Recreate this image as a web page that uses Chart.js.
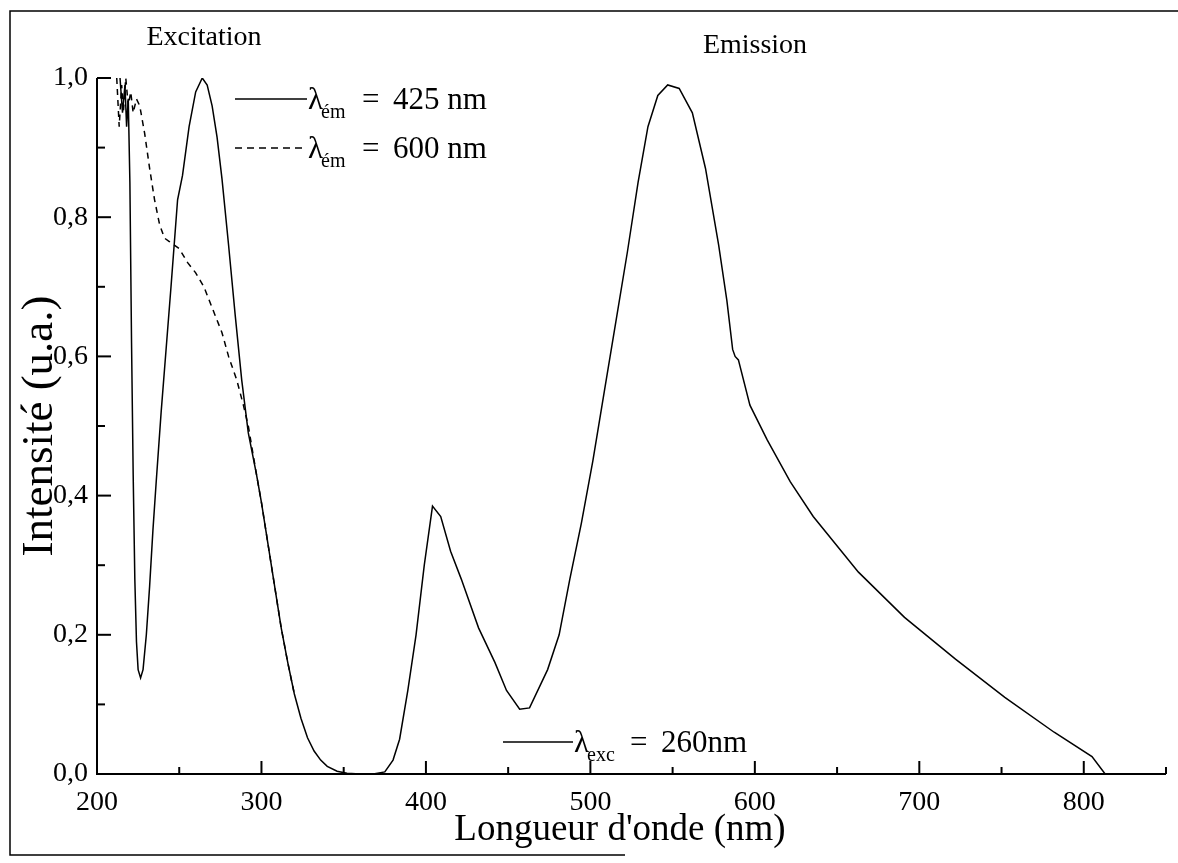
<!DOCTYPE html>
<html><head><meta charset="utf-8">
<script src="https://cdn.jsdelivr.net/npm/chart.js@4.4.1/dist/chart.umd.min.js"></script>
<style>html,body{margin:0;padding:0;background:#fff;}canvas{display:block}</style>
</head><body>
<canvas id="c" width="1178" height="863"></canvas>
<script>
// ---- data ----
const xTickLabels = ['200','300','400','500','600','700','800'];
const yTickLabels = ['0,0','0,2','0,4','0,6','0,8','1,0'];

// excitation spectrum, lambda_em = 425 nm (solid)
const exc425Nm = [214,215.5,217,218,219,220,221,222,223,224,225,226.5,228,230,232,234,236,239,242,245,249,252,256,260,264,267,270,273,276,280,284,288,292,297,300,304,308,312,316,320,324,328,332,336,340,346,352,360];
const exc425I  = [1.0,0.95,0.99,0.93,0.97,0.85,0.62,0.43,0.28,0.19,0.15,0.138,0.15,0.2,0.27,0.35,0.42,0.52,0.61,0.70,0.825,0.86,0.93,0.98,1.0,0.99,0.96,0.915,0.855,0.76,0.66,0.566,0.49,0.43,0.39,0.33,0.27,0.21,0.16,0.115,0.08,0.052,0.033,0.02,0.011,0.004,0.001,0.0];

// excitation spectrum, lambda_em = 600 nm (dashed)
const exc600Nm = [212,213.5,215,216,217.5,219,220.5,222,224,226,229,232,235,238,241,244,247,250,255,260,265,270,276,280,285,289,292,297,300,304,308,312,316,320];
const exc600I  = [1.0,0.93,0.99,0.95,1.0,0.96,0.98,0.95,0.97,0.96,0.92,0.87,0.825,0.79,0.77,0.765,0.76,0.755,0.735,0.72,0.70,0.67,0.634,0.60,0.566,0.53,0.5,0.43,0.39,0.33,0.27,0.21,0.16,0.115];

// emission spectrum, lambda_exc = 260 nm (solid)
const em260Nm = [360,368,375,380,384,389,394,399,404,409,415,421.5,432,442,449,457,463,474,481,487.5,494.5,501.5,508.5,515.5,522.5,529,535,541,547,554,562,570,578,583,586.5,588,590,597,607.5,621.5,635.5,663,691,722,752,782,805,813];
const em260I  = [0,0,0.003,0.02,0.05,0.12,0.2,0.3,0.385,0.37,0.32,0.28,0.21,0.16,0.12,0.093,0.095,0.15,0.2,0.28,0.36,0.45,0.55,0.65,0.75,0.85,0.93,0.975,0.99,0.985,0.95,0.87,0.76,0.68,0.61,0.60,0.595,0.53,0.48,0.42,0.37,0.29,0.225,0.165,0.11,0.06,0.025,0];

const FONT = 'Liberation Serif';
const pts = (xs, ys) => xs.map((x, i) => ({x, y: ys[i]}));

function drawLegendEntry(ctx, x0, x1, y, dash, sub, rest, restX){
  ctx.save();
  ctx.lineWidth = 1.5; ctx.strokeStyle = '#000';
  ctx.setLineDash(dash);
  ctx.beginPath(); ctx.moveTo(x0, y); ctx.lineTo(x1, y); ctx.stroke();
  ctx.setLineDash([]);
  ctx.fillStyle = '#000'; ctx.textBaseline = 'alphabetic'; ctx.textAlign = 'left';
  ctx.font = '31px "' + FONT + '"';
  ctx.fillText('\u03bb', x1 + 1, y + 10);
  const lw = ctx.measureText('\u03bb').width;
  ctx.font = '20px "' + FONT + '"';
  ctx.fillText(sub, x1 + 1 + lw - 2, y + 19);
  ctx.font = '31px "' + FONT + '"';
  ctx.fillText('=', restX, y + 10);
  ctx.fillText(rest, restX + 31, y + 10);
  ctx.restore();
}

const axesPlugin = {
  id: 'axesDecor',
  afterDraw(chart){
    const {ctx, chartArea: a, scales: {x, y}} = chart;
    ctx.save();
    ctx.strokeStyle = '#000'; ctx.lineWidth = 2;
    ctx.beginPath();
    ctx.moveTo(a.left, a.top); ctx.lineTo(a.left, a.bottom); ctx.lineTo(a.right, a.bottom);
    ctx.stroke();
    x.ticks.forEach(t => {
      const v = Math.round(t.value);
      const px = x.getPixelForValue(v);
      const len = (v % 100 === 0) ? 13 : 7;
      ctx.beginPath(); ctx.moveTo(px, a.bottom); ctx.lineTo(px, a.bottom - len); ctx.stroke();
    });
    y.ticks.forEach(t => {
      const k = Math.round(t.value * 10);
      const py = y.getPixelForValue(k / 10);
      const len = (k % 2 === 0) ? 14 : 8;
      ctx.beginPath(); ctx.moveTo(a.left, py); ctx.lineTo(a.left + len, py); ctx.stroke();
    });
    // outer frame of the scanned figure
    ctx.lineWidth = 1.5;
    ctx.beginPath();
    ctx.moveTo(625, 855); ctx.lineTo(10, 855); ctx.lineTo(10, 11); ctx.lineTo(1178, 11);
    ctx.stroke();
    // texts
    ctx.fillStyle = '#000'; ctx.textAlign = 'center'; ctx.textBaseline = 'alphabetic';
    ctx.font = '28px "' + FONT + '"';
    ctx.fillText('Excitation', 204, 45);
    ctx.fillText('Emission', 755, 53);
    ctx.font = '37px "' + FONT + '"';
    ctx.fillText("Longueur d'onde (nm)", 620, 840);
    ctx.restore();
    drawLegendEntry(ctx, 235, 307, 99, [], '\u00e9m', '425 nm', 362);
    drawLegendEntry(ctx, 235, 307, 148, [7, 5], '\u00e9m', '600 nm', 362);
    drawLegendEntry(ctx, 503, 573, 742, [], 'exc', '260nm', 630);
  }
};

new Chart(document.getElementById('c'), {
  type: 'line',
  data: {
    datasets: [
      {label: 'exc 425', data: pts(exc425Nm, exc425I), borderColor: '#000', borderWidth: 1.5, pointRadius: 0, tension: 0, fill: false},
      {label: 'exc 600', data: pts(exc600Nm, exc600I), borderColor: '#000', borderWidth: 1.5, borderDash: [6, 5], pointRadius: 0, tension: 0, fill: false},
      {label: 'em 260', data: pts(em260Nm, em260I), borderColor: '#000', borderWidth: 1.5, pointRadius: 0, tension: 0, fill: false}
    ]
  },
  options: {
    responsive: false, animation: false, devicePixelRatio: 1,
    layout: {padding: {top: 78, right: 11, left: 0, bottom: 0}},
    plugins: {legend: {display: false}, tooltip: {enabled: false}},
    scales: {
      x: {
        type: 'linear', min: 200, max: 850,
        afterFit(s){ s.height = 89; },
        grid: {display: false, drawTicks: false}, border: {display: false},
        ticks: {
          stepSize: 50, autoSkip: false, maxRotation: 0, padding: 12, color: '#000',
          font: {family: FONT, size: 28},
          callback: (v) => { const r = Math.round(v); return (r % 100 === 0 && r <= 800) ? xTickLabels[(r - 200) / 100] : ''; }
        }
      },
      y: {
        type: 'linear', min: 0, max: 1,
        afterFit(s){ s.width = 97; },
        grid: {display: false, drawTicks: false}, border: {display: false},
        ticks: {
          stepSize: 0.1, autoSkip: false, padding: 9, color: '#000',
          font: {family: FONT, size: 28},
          callback: (v) => { const k = Math.round(v * 10); return (k % 2 === 0) ? yTickLabels[k / 2] : ''; }
        },
        title: {display: true, text: 'Intensité (u.a.)', color: '#000', font: {family: FONT, size: 45}, padding: {top: 13, bottom: 0}}
      }
    }
  },
  plugins: [axesPlugin]
});
</script>
</body></html>
